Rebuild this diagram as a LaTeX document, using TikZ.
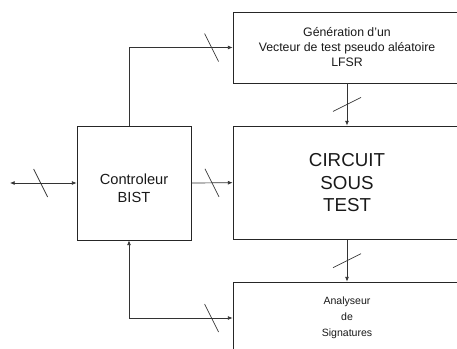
\documentclass[tikz,border=0pt]{standalone}
\usepackage{fontspec}
\setmainfont{Liberation Sans}
\usetikzlibrary{arrows.meta, calc}

\begin{document}
\begin{tikzpicture}[x=0.03cm, y=-0.03cm,
  blk/.style={draw=black!85, line width=0.7pt, inner sep=0pt, align=center,
    text=black!90},
  bus/.style={draw=black!80, line width=0.6pt},
  tip/.style={-{Latex[length=4pt, width=3.4pt]}},
  tips/.style={{Latex[length=4pt, width=3.4pt]}-{Latex[length=4pt, width=3.4pt]}},
  hbus/.pic={\draw[bus] (-7,-14) -- (7,14);},
  vbus/.pic={\draw[bus] (-14,7) -- (14,-7);}]
  \useasboundingbox (0,0) rectangle (457,349);
  \clip (0,0) rectangle (457,349);
  % blocs
  \node[blk, minimum width={114*0.03cm}, minimum height={114*0.03cm},
    font=\fontsize{12.5}{15.4}\selectfont] (ctrl) at (134,183)
    {\rule{0pt}{18pt}Controleur\\BIST};
  \node[blk, minimum width={228*0.03cm}, minimum height={71*0.03cm},
    font=\fontsize{10.5}{12.8}\selectfont] (lfsr) at (347,47.5)
    {Génération d’un\\Vecteur de test pseudo aléatoire\\LFSR};
  \node[blk, minimum width={228*0.03cm}, minimum height={113.5*0.03cm},
    font=\fontsize{16}{19.2}\selectfont] (cut) at (347,182.7) {CIRCUIT\\SOUS\\TEST};
  \node[blk, minimum width={228*0.03cm}, minimum height={72*0.03cm},
    font=\fontsize{9}{13.5}\selectfont] (sig) at (347,318) {Analyseur\\de\\Signatures};
  \coordinate (ext) at (10,183);
  % liaisons
  \draw[bus, tips] (ext) -- (ctrl.west);
  \draw[bus, tip] ([xshift=-0.15cm]ctrl.north) |- (lfsr.west);
  \draw[bus, tip] (ctrl.east) -- (cut.west);
  \draw[bus, tip] (lfsr.south) -- (cut.north);
  \draw[bus, tip] (cut.south) -- (sig.north);
  \draw[bus, tips] (sig.west) -| ([xshift=-0.15cm]ctrl.south);
  % barres de bus
  \path ($(ext)!.46!(ctrl.west)$) pic{hbus};
  \path ($(lfsr.west)+(-21,0)$) pic{hbus};
  \path ($(ctrl.east)!.5!(cut.west)$) pic{hbus};
  \path ($(sig.west)+(-21,0)$) pic{hbus};
  \path ($(lfsr.south)!.5!(cut.north)$) pic{vbus};
  \path ($(cut.south)!.5!(sig.north)$) pic{vbus};
\end{tikzpicture}
\end{document}
